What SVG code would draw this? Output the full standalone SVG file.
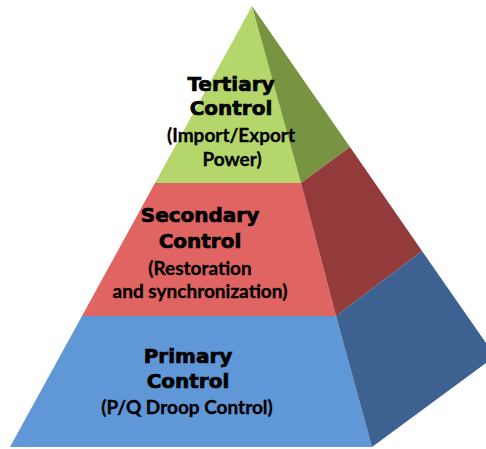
<svg xmlns="http://www.w3.org/2000/svg" width="486" height="449" viewBox="0 0 486 449">
  <style>
    .title { font-family: "DejaVu Sans", "Liberation Sans", sans-serif; font-weight: bold; font-size: 20px; fill: #000; stroke: #000; stroke-width: 0.7px; text-anchor: middle; }
    .sub { font-family: Lato, "Liberation Sans", sans-serif; font-weight: bold; font-size: 19px; fill: #000; stroke: #000; stroke-width: 0.3px; text-anchor: middle; }
  </style>
  <rect width="486" height="449" fill="#ffffff"/>

  <!-- Tertiary tier: apex of the pyramid -->
  <g id="tertiary">
    <polygon points="252,6 155,183 301,183" fill="#B4D66B"/>
    <polygon points="252,6 350,147 301,183" fill="#789440"/>
    <text class="title" x="231" y="91">Tertiary</text>
    <text class="title" x="231" y="115">Control</text>
    <text class="sub" x="231" y="142">(Import/Export</text>
    <text class="sub" x="232" y="166">Power)</text>
  </g>

  <!-- Secondary tier: middle band -->
  <g id="secondary">
    <polygon points="155,183 301,183 336,316 82,316" fill="#E06462"/>
    <polygon points="301,183 350,147 422,251 336,316" fill="#933B3A"/>
    <text class="title" x="200" y="222">Secondary</text>
    <text class="title" x="200" y="248">Control</text>
    <text class="sub" x="200" y="275">(Restoration</text>
    <text class="sub" x="200" y="298">and synchronization)</text>
  </g>

  <!-- Primary tier: base band -->
  <g id="primary">
    <polygon points="82,316 336,316 372,447 10,447" fill="#5F97D7"/>
    <polygon points="336,316 422,251 486,343 486,363 372,447" fill="#3D6191"/>
    <text class="title" x="188" y="363">Primary</text>
    <text class="title" x="188" y="388">Control</text>
    <text class="sub" x="187" y="414">(P/Q Droop Control)</text>
  </g>
</svg>
